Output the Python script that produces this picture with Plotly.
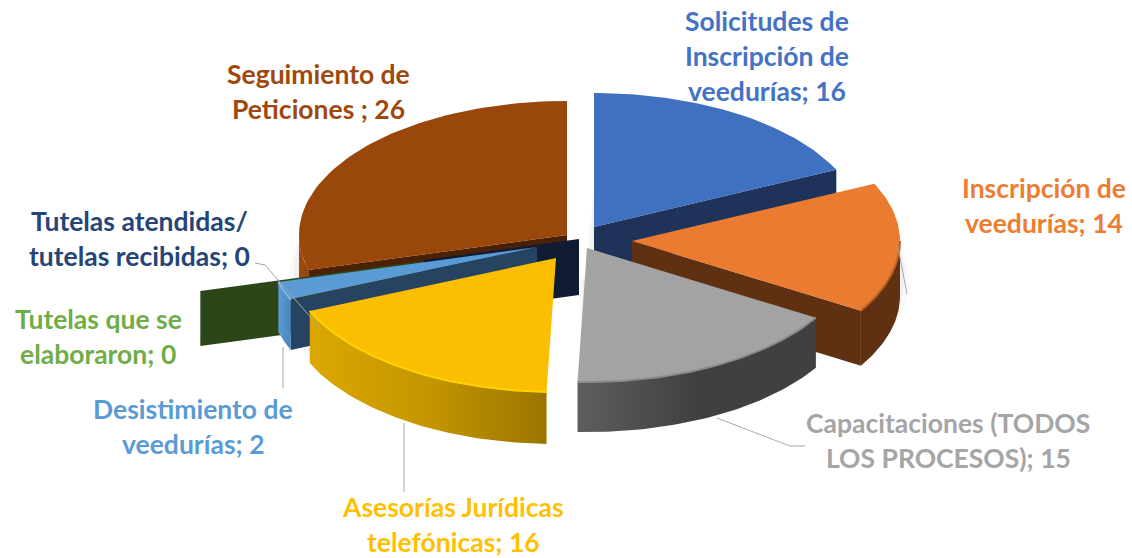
import numpy as np
import plotly.graph_objects as go

# ---- data
categories = ["Solicitudes de Inscripción de veedurías", "Inscripción de veedurías",
              "Capacitaciones (TODOS LOS PROCESOS)", "Asesorías Jurídicas telefónicas",
              "Desistimiento de veedurías", "Tutelas que se elaboraron",
              "Tutelas atendidas/ tutelas recibidas", "Seguimiento de Peticiones "]
values = [16, 14, 15, 16, 2, 0, 0, 26]

# ---- styling of each slice, in slice order
top_colors = ["#4070c0", "#ea7b30", "#a3a3a3", "#fbbe00", "#5b9bd5", "#70ad47", "#264478", "#9a470b"]
cut_colors = ["#1f3259", "#5f3012", "#404040", "#8a6a00", "#264361", "#2d4619", "#0f1c33", "#4a2104"]
rim_stops = [["#1f3259", "#1f3259"], ["#5f3012", "#5f3012"], ["#5e5e5e", "#404040", "#404040"],
             ["#dba800", "#c49600", "#9a7400"], ["#5b9bd5", "#4a86bd"], ["#2d4619", "#2d4619"],
             ["#0f1c33", "#0f1c33"], ["#a04c10", "#8f420a"]]
apex_x = [594, 632, 587, 556, 537, 459, 579, 567]
apex_y = [227, 241, 248, 258, 247, 256, 239, 235]
depth = [45, 55, 50, 52, 50, 55, 56, 47]
scale = [1, 1, 1, 1, 1, 1, 0.6, 1]
RX, RY = 268, 134
draw_order = [7, 5, 6, 0, 1, 2, 4, 3]

label_lines = [["Solicitudes de", "Inscripción de", "veedurías; 16"],
               ["Inscripción de", "veedurías; 14"],
               ["Capacitaciones (TODOS", "LOS PROCESOS); 15"],
               ["Asesorías Jurídicas", "telefónicas; 16"],
               ["Desistimiento de", "veedurías; 2"],
               ["Tutelas que se", "elaboraron; 0"],
               ["Tutelas atendidas/", "tutelas recibidas; 0"],
               ["Seguimiento de", "Peticiones ; 26"]]
label_cx = [767, 1044, 948, 453, 193, 98, 139, 318]
label_y0 = [21, 188, 423, 507, 409, 319, 221, 74]
label_colors = ["#4472c4", "#ed7d31", "#a5a5a5", "#ffc000", "#5b9bd5", "#70ad47", "#264478", "#9e480e"]
LINE_PITCH = 35

leaders = [([898, 907], [247, 294]),
           ([717, 790, 805], [418, 446, 446]),
           ([404, 404], [423, 492]),
           ([283, 283], [347, 388]),
           ([255, 265, 320], [263, 265, 328])]

# ---- geometry
total = sum(values)
cum = np.concatenate([[0], np.cumsum(values)]) * 360.0 / total


def arc(i, a, b, n=60):
    t = np.radians(np.linspace(a, b, n))
    return (apex_x[i] + scale[i] * RX * np.sin(t),
            apex_y[i] - scale[i] * RY * np.cos(t))


def poly(xs, ys, color=None, stops=None):
    kw = dict(x=list(xs), y=list(ys), mode="lines", fill="toself", line=dict(width=0),
              hoverinfo="skip", showlegend=False)
    if stops:
        cs = [[k / (len(stops) - 1), c] for k, c in enumerate(stops)]
        kw["fillgradient"] = dict(type="horizontal", colorscale=cs)
    else:
        kw["fillcolor"] = color
    return go.Scatter(**kw)


fig = go.Figure()

# soft drop shadows
for i in draw_order:
    a, b = cum[i], cum[i + 1]
    if b - a > 0:
        ax, ay = arc(i, a, b)
        for off, al in ((9, 0.025), (5, 0.03)):
            fig.add_trace(poly(np.r_[apex_x[i] - off, ax - off * np.sign(np.sin(np.radians((a + b) / 2))) * -1],
                               np.r_[apex_y[i] + 30, ay + 30 + off],
                               f"rgba(0,0,0,{al})"))

for i in draw_order:
    a, b = cum[i], cum[i + 1]
    d = depth[i]
    # radial cut faces that look towards the viewer
    for th, normal in ((b, b + 90), (a, a - 90)):
        if -np.cos(np.radians(normal)) > 0.1:
            tx, ty = arc(i, th, th, 1)
            fig.add_trace(poly([apex_x[i], tx[0], tx[0], apex_x[i]],
                               [apex_y[i], ty[0], ty[0] + d, apex_y[i] + d], cut_colors[i]))
    # outer wall, front half only
    lo, hi = max(a, 90), min(b, 270)
    if hi > lo:
        rx, ry = arc(i, lo, hi)
        fig.add_trace(poly(np.r_[rx, rx[::-1]], np.r_[ry, ry[::-1] + d], stops=rim_stops[i]))
    # top face
    if b > a:
        ax, ay = arc(i, a, b)
        fig.add_trace(poly(np.r_[apex_x[i], ax], np.r_[apex_y[i], ay], top_colors[i]))
        if hi > lo:
            rx, ry = arc(i, lo, hi)
            edge = {3: "#ffd500", 2: "#8c8c8c", 1: "#b5601f", 4: "#7db4e6"}.get(i)
            if edge:
                fig.add_trace(go.Scatter(x=rx, y=ry, mode="lines", line=dict(color=edge, width=2),
                                         hoverinfo="skip", showlegend=False))

for lx, ly in leaders:
    fig.add_trace(go.Scatter(x=lx, y=ly, mode="lines", line=dict(color="#a6a6a6", width=1),
                             hoverinfo="skip", showlegend=False))

for lines, cx, y0, col in zip(label_lines, label_cx, label_y0, label_colors):
    for k, txt in enumerate(lines):
        fig.add_annotation(x=cx, y=y0 + k * LINE_PITCH, text=txt, showarrow=False,
                           xanchor="center", yanchor="middle",
                           font=dict(family="Lato", size=26.5, color=col, weight="bold"))

fig.update_layout(width=1132, height=558, margin=dict(l=0, r=0, t=0, b=0),
                  paper_bgcolor="white", plot_bgcolor="white", showlegend=False,
                  xaxis=dict(range=[0, 1132], visible=False, fixedrange=True),
                  yaxis=dict(range=[558, 0], visible=False, fixedrange=True))
fig.write_html("out.html", config=dict(displayModeBar=False),
               post_script="document.body.style.margin='0';document.body.style.overflow='hidden';")
